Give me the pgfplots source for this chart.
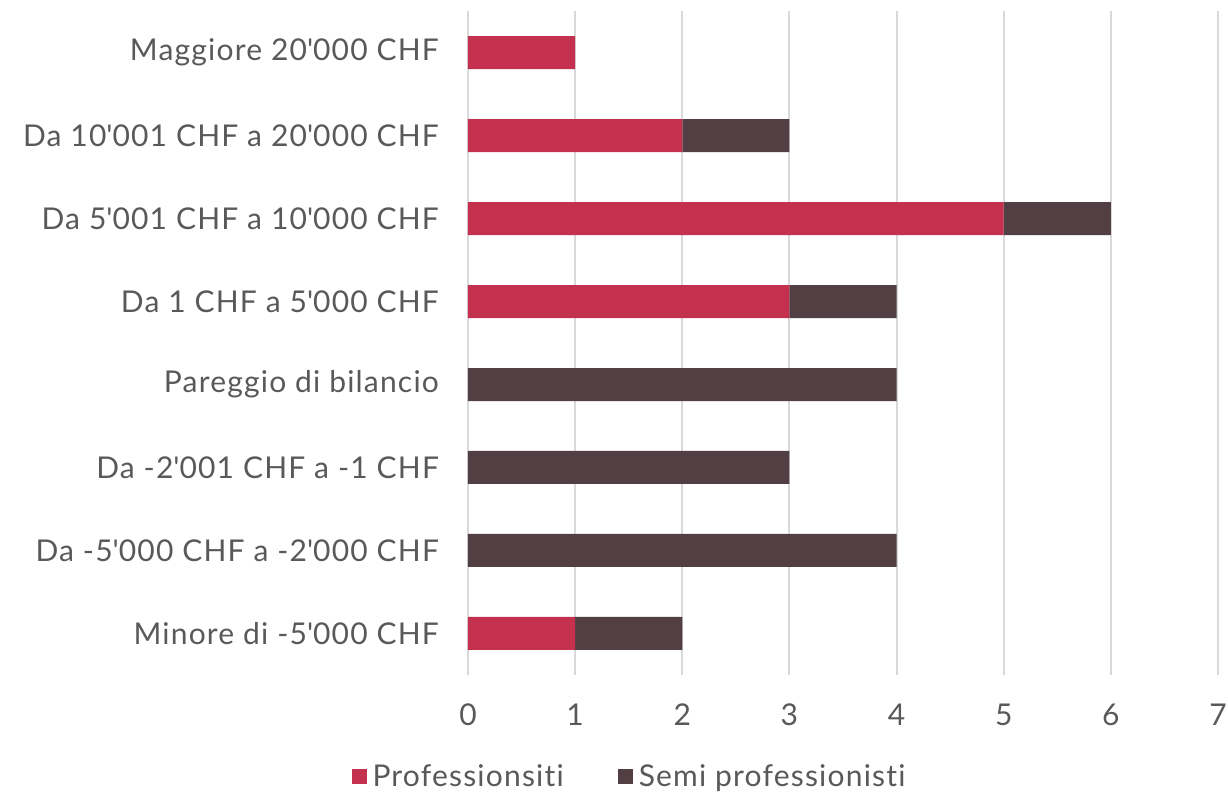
\documentclass[border=0pt]{standalone}
\usepackage{fontspec}
\setmainfont[LetterSpace=4, Ligatures=CommonOff]{Lato}
\usepackage{pgfplots}
\pgfplotsset{compat=1.18}
\definecolor{prof}{HTML}{C3314F}
\definecolor{semi}{HTML}{523F44}
\definecolor{txt}{HTML}{595959}
\definecolor{gridc}{HTML}{D9D9D9}
\newcommand{\q}{\textquotesingle}

\begin{document}
\begin{tikzpicture}[x=1pt,y=1pt]
\useasboundingbox (0,0) rectangle (614,396.5);
\begin{axis}[
  at={(234pt,59pt)}, anchor=south west,
  scale only axis, width=375pt, height=332pt,
  xbar stacked, bar width=16.5pt,
  xmin=0, xmax=7, ymin=-0.5, ymax=7.5,
  xtick={0,...,7}, ytick={0,...,7},
  yticklabels={Minore di -5\q000 CHF, Da -5\q000 CHF a -2\q000 CHF,
    Da -2\q001 CHF a -1 CHF, Pareggio di bilancio, Da 1 CHF a 5\q000 CHF,
    Da 5\q001 CHF a 10\q000 CHF, Da 10\q001 CHF a 20\q000 CHF,
    Maggiore 20\q000 CHF},
  axis line style={draw=none}, major tick length=0pt,
  xmajorgrids, grid style={gridc, line width=1pt},
  tick label style={font=\fontsize{15}{18}\selectfont, text=txt},
  xticklabel style={yshift=-11pt},
  yticklabel style={xshift=-11pt},
  /pgf/number format/assume math mode=true,
  legend columns=2,
  legend style={at={(0.218,-0.153)}, anchor=center, draw=none,
    font=\fontsize{15}{18}\selectfont, text=txt,
    nodes={inner xsep=3pt},
    /tikz/every even column/.append style={column sep=24pt}},
  legend image code/.code={\fill[#1] (0pt,-3.75pt) rectangle (7.5pt,3.75pt);},
]
\addplot[fill=prof, draw=none] coordinates
  {(1,0) (0,1) (0,2) (0,3) (3,4) (5,5) (2,6) (1,7)};
\addplot[fill=semi, draw=none] coordinates
  {(1,0) (4,1) (3,2) (4,3) (1,4) (1,5) (1,6) (0,7)};
\legend{Professionsiti, Semi professionisti}
\end{axis}
\end{tikzpicture}
\end{document}
